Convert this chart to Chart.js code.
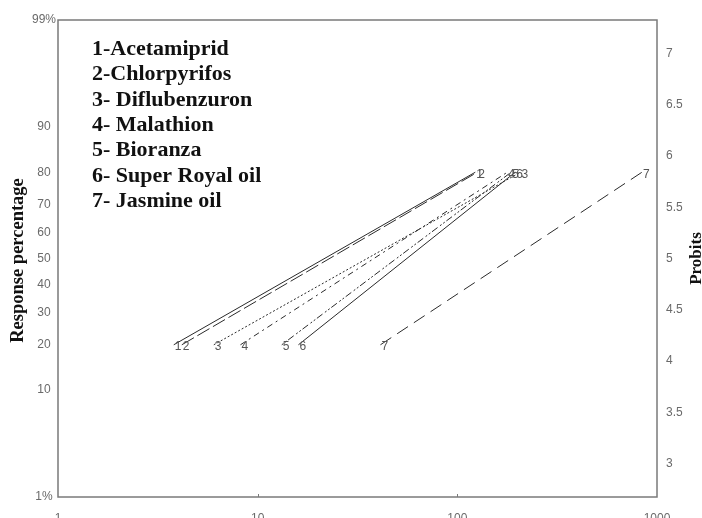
<!DOCTYPE html>
<html>
<head>
<meta charset="utf-8">
<script src="https://cdn.jsdelivr.net/npm/chart.js@4.4.1/dist/chart.umd.min.js"></script>
<style>
  html, body { margin: 0; padding: 0; background: #fff; }
  #wrap { width: 702px; height: 518px; position: relative; }
</style>
</head>
<body>
<div id="wrap"><canvas id="chart"></canvas></div>
<script>
// Chemical names as printed in the key
const keyLabels = [
    '1-Acetamiprid',
    '2-Chlorpyrifos',
    '3- Diflubenzuron',
    '4- Malathion',
    '5- Bioranza',
    '6- Super Royal oil',
    '7- Jasmine oil'
];
const lineNumbers = ['1', '2', '3', '4', '5', '6', '7'];

// Response levels (%) at the two ends of each line
const responseLevels = [20, 80];

// Concentrations at 20% and 80% response
const conc20 = [3.8, 4.17, 6.03, 8.2, 13.2, 16.0, 41.2];
const conc80 = [123, 126, 207, 178, 186, 195, 841];

// Dash style of each line
const dashes = [[], [14, 4], [2, 2], [6, 4, 2, 4], [2, 2, 2, 2, 7, 3], [], [13, 7]];

// Axis ticks
const xTicks = [1, 10, 100, 1000];
const pctTicks = [1, 10, 20, 30, 40, 50, 60, 70, 80, 90, 99];
const pctLabels = ['1%', '10', '20', '30', '40', '50', '60', '70', '80', '90', '99%'];
const probitTicks = [3, 3.5, 4, 4.5, 5, 5.5, 6, 6.5, 7];

/**
 * Inverse normal CDF (Acklam approximation), probit = 5 + z
 */
function normInv(p) {
    const a = [-3.969683028665376e+01, 2.209460984245205e+02, -2.759285104469687e+02,
        1.383577518672690e+02, -3.066479806614716e+01, 2.506628277459239e+00];
    const b = [-5.447609879822406e+01, 1.615858368580409e+02, -1.556989798598866e+02,
        6.680131188771972e+01, -1.328068155288572e+01];
    const c = [-7.784894002430293e-03, -3.223964580411365e-01, -2.400758277161838e+00,
        -2.549671010115819e+00, 4.374664141464968e+00, 2.938163982698783e+00];
    const d = [7.784695709041462e-03, 3.224671290700398e-01, 2.445134137142996e+00,
        3.754408661907416e+00];
    const pl = 0.02425;
    let q, r;
    if (p < pl) {
        q = Math.sqrt(-2 * Math.log(p));
        return (((((c[0]*q+c[1])*q+c[2])*q+c[3])*q+c[4])*q+c[5]) / ((((d[0]*q+d[1])*q+d[2])*q+d[3])*q+1);
    }
    if (p > 1 - pl) {
        q = Math.sqrt(-2 * Math.log(1 - p));
        return -(((((c[0]*q+c[1])*q+c[2])*q+c[3])*q+c[4])*q+c[5]) / ((((d[0]*q+d[1])*q+d[2])*q+d[3])*q+1);
    }
    q = p - 0.5;
    r = q * q;
    return (((((a[0]*r+a[1])*r+a[2])*r+a[3])*r+a[4])*r+a[5])*q / (((((b[0]*r+b[1])*r+b[2])*r+b[3])*r+b[4])*r+1);
}
const probit = pct => 5 + normInv(pct / 100);

const yMin = probit(1);
const yMax = probit(99);

const datasets = keyLabels.map((name, i) => ({
    label: name,
    data: [
        { x: conc20[i], y: probit(responseLevels[0]) },
        { x: conc80[i], y: probit(responseLevels[1]) }
    ],
    borderColor: '#2a2a2a',
    borderWidth: 1,
    borderDash: dashes[i],
    pointRadius: 0,
    tension: 0,
    fill: false
}));

const tickFont = { family: 'Liberation Sans, Arial, sans-serif', size: 12 };
const tickColor = '#6a6a6a';

// Frame, small ticks, line numbers, key and axis titles
const decorations = {
    id: 'decorations',
    afterDraw(chart) {
        const ctx = chart.ctx;
        const area = chart.chartArea;
        const xs = chart.scales.x;
        const ys = chart.scales.y;
        ctx.save();

        // plot frame
        ctx.strokeStyle = '#7a7a7a';
        ctx.lineWidth = 1.5;
        ctx.strokeRect(area.left, area.top, area.right - area.left, area.bottom - area.top);

        // small inward ticks on the bottom axis
        ctx.lineWidth = 1;
        xTicks.slice(1, -1).forEach(v => {
            const px = Math.round(xs.getPixelForValue(v)) + 0.5;
            ctx.beginPath();
            ctx.moveTo(px, area.bottom);
            ctx.lineTo(px, area.bottom - 3);
            ctx.stroke();
        });

        // number at both ends of every line
        ctx.fillStyle = '#555';
        ctx.font = '12px Liberation Sans, Arial, sans-serif';
        ctx.textAlign = 'left';
        ctx.textBaseline = 'middle';
        chart.data.datasets.forEach((ds, i) => {
            ds.data.forEach(pt => {
                const px = xs.getPixelForValue(pt.x);
                const py = ys.getPixelForValue(pt.y);
                ctx.fillText(lineNumbers[i], px + 1, py + 2);
            });
        });

        // key text
        ctx.fillStyle = '#111';
        ctx.font = 'bold 22px Liberation Serif, Times New Roman, serif';
        ctx.textBaseline = 'alphabetic';
        keyLabels.forEach((t, i) => {
            ctx.fillText(t, area.left + 34, area.top + 35 + i * 25.3);
        });

        // axis titles
        ctx.textAlign = 'center';
        ctx.textBaseline = 'middle';
        const midY = (area.top + area.bottom) / 2;
        ctx.save();
        ctx.font = 'bold 18.5px Liberation Serif, Times New Roman, serif';
        ctx.translate(18, midY + 2);
        ctx.rotate(-Math.PI / 2);
        ctx.fillText('Response percentage', 0, 0);
        ctx.restore();
        ctx.save();
        ctx.font = 'bold 17px Liberation Serif, Times New Roman, serif';
        ctx.translate(chart.width - 5, midY);
        ctx.rotate(-Math.PI / 2);
        ctx.fillText('Probits', 0, 0);
        ctx.restore();

        ctx.restore();
    }
};

new Chart(document.getElementById('chart'), {
    type: 'line',
    data: { datasets },
    options: {
        responsive: true,
        maintainAspectRatio: false,
        animation: false,
        layout: { padding: { top: 20, left: 0, right: 0, bottom: 0 }, autoPadding: false },
        plugins: {
            legend: { display: false },
            tooltip: { enabled: false }
        },
        scales: {
            x: {
                type: 'logarithmic',
                position: 'bottom',
                min: 1,
                max: 1000,
                grid: { display: false, drawTicks: false },
                border: { display: false },
                afterBuildTicks: s => { s.ticks = xTicks.map(v => ({ value: v })); },
                afterFit: s => { s.height = 21; },
                ticks: {
                    font: tickFont,
                    color: tickColor,
                    padding: 14,
                    maxRotation: 0,
                    autoSkip: false,
                    callback: v => String(v)
                }
            },
            y: {
                type: 'linear',
                position: 'left',
                min: yMin,
                max: yMax,
                grid: { display: false, drawTicks: false },
                border: { display: false },
                afterBuildTicks: s => { s.ticks = pctTicks.map(p => ({ value: probit(p) })); },
                afterFit: s => { s.width = 58; },
                ticks: {
                    font: tickFont,
                    color: tickColor,
                    padding: 2,
                    crossAlign: 'center',
                    autoSkip: false,
                    callback: (v, i) => pctLabels[i]
                }
            },
            y2: {
                type: 'linear',
                position: 'right',
                min: yMin,
                max: yMax,
                grid: { display: false, drawTicks: false },
                border: { display: false },
                afterBuildTicks: s => { s.ticks = probitTicks.map(v => ({ value: v })); },
                afterFit: s => { s.width = 45; },
                ticks: {
                    font: tickFont,
                    color: tickColor,
                    padding: 9,
                    autoSkip: false,
                    callback: v => String(v)
                }
            }
        }
    },
    plugins: [decorations]
});
</script>
</body>
</html>
